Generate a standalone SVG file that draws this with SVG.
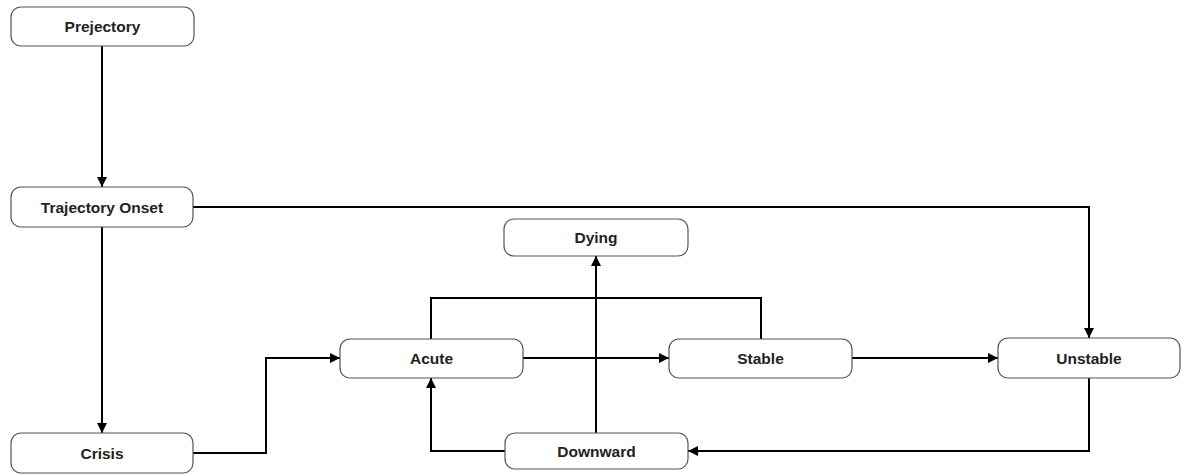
<svg xmlns="http://www.w3.org/2000/svg" width="1183" height="475" viewBox="0 0 1183 475">
<defs>
<marker id="ah" viewBox="0 0 10 10" refX="10" refY="5" markerWidth="10" markerHeight="10" markerUnits="userSpaceOnUse" orient="auto">
<path d="M0,0 L10,5 L0,10 z" fill="#000"/>
</marker>
<style>
.n rect{fill:#fff;stroke:#555;stroke-width:1.2}
.n text{font-family:"Liberation Sans",Arial,sans-serif;font-weight:bold;font-size:15.5px;fill:#222;text-anchor:middle;dominant-baseline:central}
.c path{fill:none;stroke:#000;stroke-width:2}
.c .a{marker-end:url(#ah)}
</style>
</defs>
<rect width="1183" height="475" fill="#fff"/>
<g class="c">
<path class="a" d="M102,46 V187"/>
<path class="a" d="M102,227 V433"/>
<path class="a" d="M193,207 H1089 V338"/>
<path class="a" d="M193,453 H266 V358 H340"/>
<path class="a" d="M523,358 H669"/>
<path class="a" d="M852,358 H998"/>
<path d="M431,339 V298 H761 V339"/>
<path class="a" d="M596,433 V256"/>
<path class="a" d="M505,451 H431 V378"/>
<path class="a" d="M1089,378 V451 H688"/>
</g>
<g id="prejectory" class="n"><rect x="11" y="7" width="183" height="39" rx="10"/><text x="102.5" y="26.5">Prejectory</text></g>
<g id="onset" class="n"><rect x="11" y="187" width="182" height="40" rx="10"/><text x="102" y="207">Trajectory Onset</text></g>
<g id="crisis" class="n"><rect x="11" y="433" width="182" height="40" rx="10"/><text x="102" y="453">Crisis</text></g>
<g id="dying" class="n"><rect x="504" y="219" width="184" height="37" rx="10"/><text x="596" y="237.5">Dying</text></g>
<g id="acute" class="n"><rect x="340" y="339" width="183" height="39" rx="10"/><text x="431.5" y="358.5">Acute</text></g>
<g id="stable" class="n"><rect x="669" y="339" width="183" height="39" rx="10"/><text x="760.5" y="358.5">Stable</text></g>
<g id="unstable" class="n"><rect x="998" y="338" width="182" height="40" rx="10"/><text x="1089" y="358">Unstable</text></g>
<g id="downward" class="n"><rect x="505" y="433" width="183" height="36" rx="10"/><text x="596.5" y="451">Downward</text></g>
</svg>
